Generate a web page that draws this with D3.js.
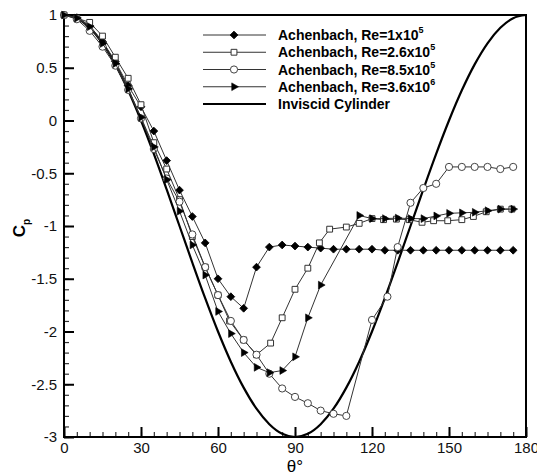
<!DOCTYPE html>
<html>
<head>
<meta charset="utf-8">
<script src="https://cdn.jsdelivr.net/npm/d3@7"></script>
<style>
  body { margin: 0; background: #fff; }
  svg { font-family: Arial, "Liberation Sans", sans-serif; }
</style>
</head>
<body>
<div class="plot"></div>
<script>
/* tick labels */
const xTicks = [0, 30, 60, 90, 120, 150, 180];
const yTicks = [1, 0.5, 0, -0.5, -1, -1.5, -2, -2.5, -3];

/* Achenbach, Re=1x10^5 (filled diamonds) */
const thetaA = [0,5,10,15,20,25,30,35,40,45,50,55,60,65,70,75,80,85,90,95,100,105,110,115,120,125,130,135,140,145,150,155,160,165,170,175];
const cpA = [1.0,0.975,0.90,0.75,0.56,0.33,0.13,-0.10,-0.38,-0.66,-0.91,-1.16,-1.50,-1.67,-1.78,-1.39,-1.20,-1.18,-1.19,-1.20,-1.21,-1.22,-1.22,-1.22,-1.22,-1.23,-1.23,-1.23,-1.23,-1.23,-1.23,-1.23,-1.23,-1.23,-1.23,-1.23];

/* Achenbach, Re=2.6x10^5 (open squares) */
const thetaB = [0,5,10,15,20,25,30,35,40,45,50,55,60,64.5,70,75,80.5,85,90,95,99.5,103.5,110,115,120,124.5,129.5,134.5,139.5,144,149.5,155,159.5,164.5,170,174.5];
const cpB = [1.0,0.97,0.93,0.80,0.60,0.40,0.15,-0.21,-0.46,-0.75,-1.10,-1.39,-1.655,-1.90,-2.08,-2.22,-2.11,-1.87,-1.60,-1.40,-1.16,-1.03,-1.01,-0.975,-0.93,-0.94,-0.935,-0.94,-0.965,-0.95,-0.95,-0.94,-0.91,-0.865,-0.84,-0.84];

/* Achenbach, Re=8.5x10^5 (open circles) */
const thetaC = [0,5,10,15,20,25,30,35,40,45,50,55,60,65,70,75,80,85,90,95,100,105,110,120,126,130,135,140,145,150,155,160,165,170,175];
const cpC = [1.0,0.96,0.85,0.70,0.52,0.29,0.02,-0.27,-0.55,-0.77,-1.08,-1.39,-1.655,-1.90,-2.08,-2.22,-2.40,-2.54,-2.62,-2.68,-2.75,-2.78,-2.80,-1.89,-1.67,-1.20,-0.78,-0.64,-0.60,-0.44,-0.44,-0.44,-0.44,-0.46,-0.44];

/* Achenbach, Re=3.6x10^6 (filled right triangles) */
const thetaD = [0,5,10,15,20,25,30,35,40,45,50,55,60,65,70,75,80,85,90,95,100,115,120,125,130,135,140,145,150,155,160,165,170,175];
const cpD = [1.0,0.97,0.89,0.73,0.54,0.30,0.03,-0.25,-0.56,-0.86,-1.18,-1.465,-1.81,-2.02,-2.20,-2.34,-2.39,-2.37,-2.24,-1.87,-1.56,-0.90,-0.93,-0.93,-0.925,-0.93,-0.93,-0.905,-0.88,-0.875,-0.87,-0.855,-0.84,-0.84];

/* Inviscid cylinder */
const thetaInv = [0,5,10,15,20,25,30,35,40,45,50,55,60,65,70,75,80,85,90,95,100,105,110,115,120,125,130,135,140,145,150,155,160,165,170,175,180];
const cpInv = [1,0.970,0.879,0.732,0.532,0.286,0,-0.316,-0.653,-1,-1.347,-1.684,-2,-2.286,-2.532,-2.732,-2.879,-2.970,-3,-2.970,-2.879,-2.732,-2.532,-2.286,-2,-1.684,-1.347,-1,-0.653,-0.316,0,0.286,0.532,0.732,0.879,0.970,1];

const zip = (t, c) => t.map((d, i) => ({theta: d, cp: c[i]}));

const series = [
  {label: "Achenbach, Re=1x10", sup: "5", data: zip(thetaA, cpA), marker: "diamond"},
  {label: "Achenbach, Re=2.6x10", sup: "5", data: zip(thetaB, cpB), marker: "square"},
  {label: "Achenbach, Re=8.5x10", sup: "5", data: zip(thetaC, cpC), marker: "circle"},
  {label: "Achenbach, Re=3.6x10", sup: "6", data: zip(thetaD, cpD), marker: "triangle"}
];

/* svg with margin convention */
const margin = {top: 15, right: 11, bottom: 36, left: 64};
const width = 537 - margin.left - margin.right;
const height = 473 - margin.top - margin.bottom;

const svg = d3.select(".plot").append("svg")
  .attr("width", 537)
  .attr("height", 473)
  .append("g")
    .attr("transform", `translate(${margin.left},${margin.top})`);

const xScale = d3.scaleLinear().domain([0, 180]).range([0, width]);
const yScale = d3.scaleLinear().domain([-3, 1]).range([height, 0]);

/* minor ticks */
svg.append("g")
  .attr("transform", `translate(0,${height})`)
  .call(d3.axisBottom(xScale).tickValues(d3.range(0, 181, 5)).tickSize(-5).tickFormat(""))
  .call(g => g.select(".domain").remove())
  .call(g => g.selectAll(".tick line").attr("stroke-width", 1.2).attr("stroke", "#333"));

svg.append("g")
  .call(d3.axisLeft(yScale).tickValues(d3.range(-30, 11).map(d => d / 10)).tickSize(-5).tickFormat(""))
  .call(g => g.select(".domain").remove())
  .call(g => g.selectAll(".tick line").attr("stroke-width", 1.2).attr("stroke", "#333"));

/* major ticks + labels */
svg.append("g")
  .attr("transform", `translate(0,${height})`)
  .call(d3.axisBottom(xScale).tickValues(xTicks).tickSize(-10).tickPadding(5).tickFormat(d3.format("d")))
  .call(g => g.select(".domain").remove())
  .call(g => g.selectAll(".tick line").attr("stroke-width", 2).attr("stroke", "#000"))
  .call(g => g.selectAll(".tick text").attr("font-size", 15).attr("fill", "#111")
    .attr("font-family", "Arial, 'Liberation Sans', sans-serif"));

svg.append("g")
  .call(d3.axisLeft(yScale).tickValues(yTicks).tickSize(-10).tickPadding(7).tickFormat(d => String(d)))
  .call(g => g.select(".domain").remove())
  .call(g => g.selectAll(".tick line").attr("stroke-width", 2).attr("stroke", "#000"))
  .call(g => g.selectAll(".tick text").attr("font-size", 15).attr("fill", "#111")
    .attr("font-family", "Arial, 'Liberation Sans', sans-serif"));

/* frame */
svg.append("rect")
  .attr("width", width)
  .attr("height", height)
  .attr("fill", "none")
  .attr("stroke", "#000")
  .attr("stroke-width", 2);

/* axis titles */
svg.append("text")
  .attr("x", xScale(90))
  .attr("y", height + 35)
  .attr("text-anchor", "middle")
  .attr("font-size", 17)
  .text("θ°");

const yTitle = svg.append("text")
  .attr("transform", `translate(${25 - margin.left},${yScale(-1) + 2}) rotate(-90)`)
  .attr("text-anchor", "middle")
  .attr("font-size", 17)
  .attr("font-weight", "bold");
yTitle.append("tspan").text("C");
yTitle.append("tspan").attr("font-size", 10).attr("dy", 5).text("p");

/* marker shapes */
function marker(sel, type) {
  if (type === "diamond") {
    sel.append("path").attr("d", d3.symbol(d3.symbolSquare, 30)())
      .attr("transform", "rotate(45)")
      .attr("fill", "#000").attr("stroke", "#000").attr("stroke-width", 0.8);
  } else if (type === "square") {
    sel.append("path").attr("d", d3.symbol(d3.symbolSquare, 34)())
      .attr("fill", "#fff").attr("stroke", "#333").attr("stroke-width", 1);
  } else if (type === "circle") {
    sel.append("circle").attr("r", 3.6)
      .attr("fill", "#fff").attr("stroke", "#444").attr("stroke-width", 1);
  } else if (type === "triangle") {
    sel.append("path").attr("d", d3.symbol(d3.symbolTriangle, 26)())
      .attr("transform", "rotate(90)")
      .attr("fill", "#000").attr("stroke", "#000").attr("stroke-width", 0.6);
  }
}

/* inviscid line */
const line = d3.line()
  .x(d => xScale(d.theta))
  .y(d => yScale(d.cp));

svg.append("path")
  .datum(zip(thetaInv, cpInv))
  .attr("d", line.curve(d3.curveMonotoneX))
  .attr("fill", "none")
  .attr("stroke", "#000")
  .attr("stroke-width", 2.2);

const dataLine = d3.line()
  .x(d => xScale(d.theta))
  .y(d => yScale(d.cp));

/* series lines and markers */
series.forEach(s => {
  svg.append("path")
    .datum(s.data)
    .attr("d", dataLine)
    .attr("fill", "none")
    .attr("stroke", "#333")
    .attr("stroke-width", 1);

  svg.selectAll(null)
    .data(s.data)
    .join("g")
      .attr("transform", d => `translate(${xScale(d.theta)},${yScale(d.cp)})`)
      .each(function() { marker(d3.select(this), s.marker); });
});

/* legend */
const legend = svg.append("g")
  .attr("transform", `translate(${203 - margin.left},${35 - margin.top})`);
const rowH = 17.25;

series.forEach((s, i) => {
  const row = legend.append("g").attr("transform", `translate(0,${i * rowH})`);
  row.append("line")
    .attr("x1", 0).attr("x2", 63)
    .attr("stroke", "#333").attr("stroke-width", 1);
  row.append("g").attr("transform", "translate(31,0)").call(g => marker(g, s.marker));
  const t = row.append("text")
    .attr("x", 75).attr("y", 5)
    .attr("font-size", 14)
    .attr("font-weight", "bold")
    .text(s.label);
  t.append("tspan").attr("font-size", 9).attr("dy", -7).text(s.sup);
});

const invRow = legend.append("g").attr("transform", `translate(0,${4 * rowH})`);
invRow.append("line")
  .attr("x1", 0).attr("x2", 63)
  .attr("stroke", "#000").attr("stroke-width", 2.2);
invRow.append("text")
  .attr("x", 75).attr("y", 5)
  .attr("font-size", 14)
  .attr("font-weight", "bold")
  .text("Inviscid Cylinder");
</script>
</body>
</html>
